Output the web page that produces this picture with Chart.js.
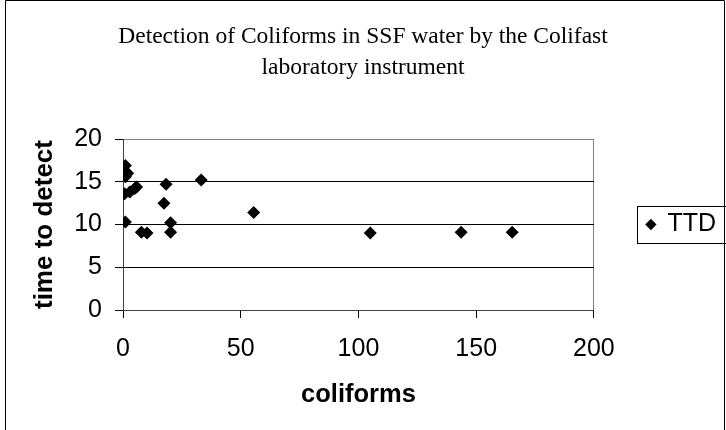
<!DOCTYPE html>
<html>
<head>
<meta charset="utf-8">
<script src="https://cdn.jsdelivr.net/npm/chart.js@4.4.1/dist/chart.umd.min.js"></script>
<style>
  html, body { margin: 0; padding: 0; background: #fff; }
  #wrap { width: 726px; height: 430px; position: relative; }
</style>
</head>
<body>
<div id="wrap"><canvas id="c"></canvas></div>
<script>
// data
const coliforms = [1.0, 1.0, 2.0, 0.7, 2.9, 5.0, 5.8, 18.3, 17.4, 33.2, 55.5, 1.0, 7.8, 10.2, 20.2, 20.2, 105, 143.6, 165.3];
const ttd       = [16.9, 15.6, 16.0, 13.6, 13.8, 14.2, 14.4, 14.7, 12.5, 15.2, 11.4, 10.3, 9.1, 9.0, 10.2, 9.1, 9.0, 9.1, 9.1];
const xTicks = [0, 50, 100, 150, 200];
const yTicks = [0, 5, 10, 15, 20];

const sans = 'Arial, "Liberation Sans", sans-serif';
const serif = '"Times New Roman", "Liberation Serif", serif';

// outer frame + legend box
const framePlugin = {
  id: 'frame',
  beforeDraw(chart) {
    const c = chart.ctx;
    c.save();
    c.fillStyle = '#fff';
    c.fillRect(0, 0, chart.width, chart.height);
    c.strokeStyle = '#000';
    c.lineWidth = 1;
    c.beginPath();
    c.moveTo(5.5, chart.height);
    c.lineTo(5.5, 0.5);
    c.lineTo(724.5, 0.5);
    c.lineTo(724.5, chart.height);
    c.stroke();
    c.restore();
  },
  afterDraw(chart) {
    const hb = chart.legend.legendHitBoxes[0];
    if (!hb) return;
    const c = chart.ctx;
    const cy = Math.round(hb.top + hb.height / 2);
    c.save();
    c.strokeStyle = '#000';
    c.lineWidth = 1;
    c.strokeRect(637.5, cy - 18.5, 100, 37);
    c.restore();
  }
};

new Chart(document.getElementById('c'), {
  type: 'scatter',
  data: {
    datasets: [{
      label: 'TTD',
      data: coliforms.map((x, i) => ({ x, y: ttd[i] })),
      pointStyle: 'rectRot',
      pointRadius: 6.5,
      backgroundColor: '#000',
      borderColor: '#000',
      borderWidth: 0
    }]
  },
  options: {
    responsive: true,
    maintainAspectRatio: false,
    animation: false,
    layout: { padding: { left: 0, right: 0, top: 0, bottom: 0 } },
    plugins: {
      title: {
        display: true,
        text: ['Detection of Coliforms in SSF water by the Colifast', 'laboratory instrument'],
        color: '#000',
        font: { family: serif, size: 23.5, weight: 'normal', lineHeight: 1.32 },
        padding: { top: 21.5, bottom: 55.5 }
      },
      legend: {
        position: 'right',
        align: 'center',
        fullSize: false,
        labels: {
          usePointStyle: true,
          pointStyle: 'rectRot',
          boxWidth: 8,
          boxHeight: 8,
          color: '#000',
          font: { family: sans, size: 25 },
          padding: 53
        }
      },
      tooltip: { enabled: false }
    },
    scales: {
      x: {
        type: 'linear',
        min: 0, max: 200,
        afterBuildTicks: s => { s.ticks = xTicks.map(v => ({ value: v })); },
        afterFit: s => { s.height = 120; },
        grid: {
          drawOnChartArea: true,
          color: ctx => ctx.tick && ctx.tick.value === 200 ? '#808080' : 'rgba(0,0,0,0)',
          tickColor: '#000',
          tickLength: 8
        },
        border: { color: '#404040', width: 1 },
        ticks: { color: '#000', font: { family: sans, size: 25 }, padding: 16, maxRotation: 0 },
        title: {
          display: true, text: 'coliforms', color: '#000',
          font: { family: sans, size: 25.5, weight: 'bold' },
          padding: { top: 20, bottom: 20 }
        }
      },
      y: {
        min: 0, max: 20,
        afterBuildTicks: s => { s.ticks = yTicks.map(v => ({ value: v })); },
        afterFit: s => { s.width = 123; },
        grid: {
          color: ctx => ctx.tick && ctx.tick.value === 20 ? '#808080' : '#000',
          tickColor: '#000',
          tickLength: 8
        },
        border: { color: '#404040', width: 1 },
        ticks: { color: '#000', font: { family: sans, size: 25 }, padding: 13 },
        title: {
          display: true, text: 'time to detect', color: '#000',
          font: { family: sans, size: 26, weight: 'bold' },
          padding: { top: 29, bottom: 29 }
        }
      }
    }
  },
  plugins: [framePlugin]
});
</script>
</body>
</html>
